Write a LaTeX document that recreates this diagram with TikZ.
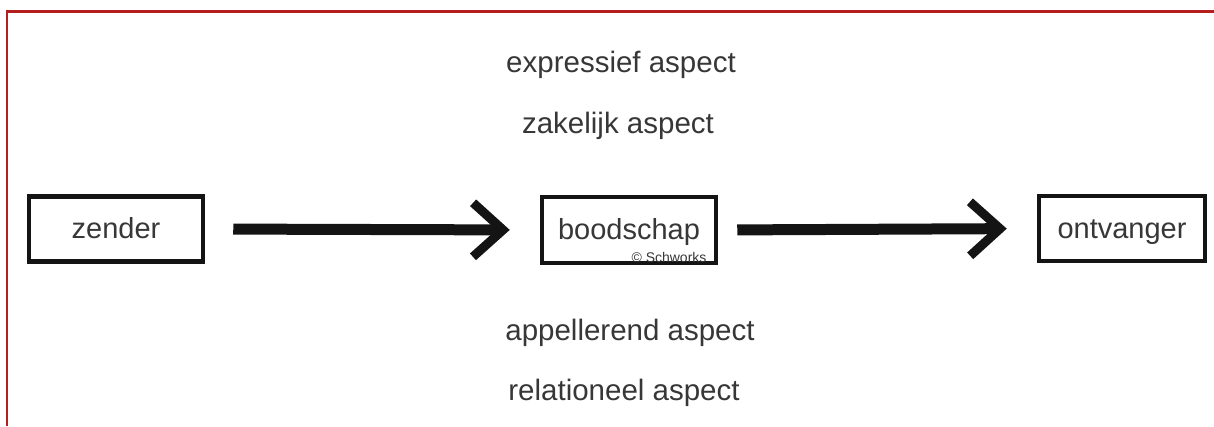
\documentclass[tikz,border=0pt]{standalone}
\usepackage{fontspec}
\setmainfont{Liberation Sans}
\usetikzlibrary{arrows.meta}
\definecolor{framered}{RGB}{180,30,30}
\definecolor{txt}{RGB}{55,55,55}
\definecolor{ink}{RGB}{20,20,20}
\begin{document}
\begin{tikzpicture}[x=1pt,y=-1pt,
  box/.style={draw=ink, line width=4.5pt, minimum width=#1, minimum height=65pt,
    inner sep=0pt, text height=22pt, text depth=3pt,
    font=\fontsize{29}{34}\selectfont, text=txt},
  aspect/.style={font=\fontsize{29.5}{35}\selectfont, text=txt, anchor=base, inner sep=0pt},
  flow/.style={draw=ink, line width=11pt,
    -{Straight Barb[length=30pt,width=54pt,line width=9pt]}},
  borderline/.style={draw=framered, line width=2.5pt}
]
\useasboundingbox (0,0) rectangle (1214,426);
% frame (top and left only)
\coordinate (ftr) at (1214,11.5);
\coordinate (ftl) at (7,11.5);
\coordinate (fbl) at (7,426);
\draw[borderline] (ftr) -- (ftl) -- (fbl);

% boxes
\node[box=174pt] (zender) at (116,229) {zender};
\node[box=174pt, minimum height=66pt] (boodschap) at (629,230) {boodschap};
\node[box=166pt] (ontvanger) at (1122,228.5) {ontvanger};
\node[font=\fontsize{14}{16}\selectfont, text=txt, anchor=base, inner sep=0pt] (copy) at (669,262) {© Schworks};

% arrows
\draw[flow, shorten <=28pt, shorten >=30pt] (zender.east) -- (boodschap.west);
\draw[flow, shorten <=19pt, shorten >=30pt] (boodschap.east) -- (ontvanger.west);

% aspects
\node[aspect] (expr) at (621,72) {expressief aspect};
\node[aspect] (zak) at (618,133) {zakelijk aspect};
\node[aspect] (app) at (630,340) {appellerend aspect};
\node[aspect] (rel) at (624,400) {relationeel aspect};
\end{tikzpicture}
\end{document}
